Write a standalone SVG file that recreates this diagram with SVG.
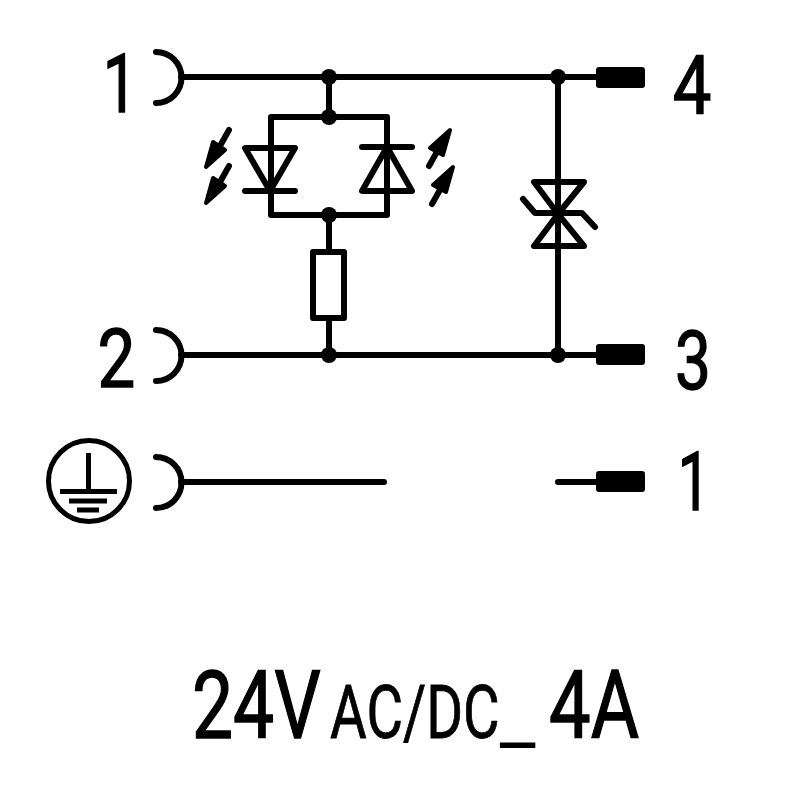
<svg xmlns="http://www.w3.org/2000/svg" width="800" height="800" viewBox="0 0 800 800">
<style>
.w{fill:none;stroke:#000;stroke-width:6;stroke-linecap:round;stroke-linejoin:round}
.d{fill:#000;stroke:none}
.a{fill:#000;stroke:#000;stroke-width:4;stroke-linejoin:round}
.g{fill:none;stroke:#000;stroke-width:5}
text{font-family:"Roboto","Liberation Sans",sans-serif;fill:#000;stroke:#000;stroke-width:1.400}
.n{font-size:82px;text-anchor:middle;stroke-width:1.400}
.b{font-size:95px}
.s{font-size:74px;stroke-width:.800}
</style>
<defs>
<path id="sock" d="M156 52A25.500 25.500 0 0 1 156 103" class="w"/>
</defs>
<g id="connectors">
<path d="M181 77H600M181 355H600M181 482H384M558 482H600" class="w"/>
<path d="M329 77V117M271 117H387V215H271ZM329 215V252M329 318V355M558 77V355" class="w"/>
</g>
<g id="pin1"><use href="#sock"/><text class="n" transform="translate(120 112) scale(.75 1)">1</text></g>
<g id="pin2"><use href="#sock" y="278"/><text class="n" transform="translate(116.500 387) scale(.82 1)">2</text></g>
<g id="pinPE"><use href="#sock" y="405"/>
<circle cx="89" cy="481" r="40.500" class="g"/>
<path d="M88.500 453V491.500M60 491.500H117M69 501H107M77 510H99" class="g"/></g>
<g id="pin4"><rect x="596" y="67" width="49" height="21" rx="3" class="d"/><text class="n" transform="translate(692 114) scale(.84 1)">4</text></g>
<g id="pin3"><rect x="596" y="344" width="49" height="21" rx="3" class="d"/><text class="n" transform="translate(693 389) scale(.78 1)">3</text></g>
<g id="pin1b"><rect x="596" y="471" width="49" height="21" rx="3" class="d"/><text class="n" transform="translate(694 510) scale(.7 1)">1</text></g>
<g id="junctions" class="d">
<circle cx="329" cy="77" r="8"/><circle cx="558" cy="77" r="8"/>
<circle cx="329" cy="117" r="8"/><circle cx="329" cy="215" r="8"/>
<circle cx="329" cy="355" r="8"/><circle cx="558" cy="355" r="8"/>
</g>
<g id="led1">
<path d="M245 148H295L270 191ZM245 191H295" class="w"/>
<path d="M229 130L220 146M229 166L220 182" class="w"/>
<path d="M206 167L213 142L225 150Z" class="a"/><path d="M206 203L213 178L225 186Z" class="a"/>
</g>
<g id="led2">
<path d="M362 147H412M362 191H412L387 147Z" class="w"/>
<path d="M429 166L438 150M432 204L441 188" class="w"/>
<path d="M450 130L443 155L430 148Z" class="a"/><path d="M453 167L446 192L433 185Z" class="a"/>
</g>
<g id="resistor"><rect x="313" y="252" width="31" height="66" class="w" style="fill:#fff"/></g>
<g id="tvs">
<path d="M534 182H584L558 214L534 246H584L558 214ZM523 199L535 213H582L595 227" class="w"/>
</g>
<g id="rating">
<text class="b" transform="translate(192 738) scale(.77 1)">24V</text>
<text class="s" transform="translate(330 738) scale(.76 1)">AC/DC<tspan dy="4" textLength="47" lengthAdjust="spacingAndGlyphs" style="stroke-width:0">_</tspan></text>
<text class="b" transform="translate(549 738) scale(.78 1)">4A</text>
</g>
</svg>
